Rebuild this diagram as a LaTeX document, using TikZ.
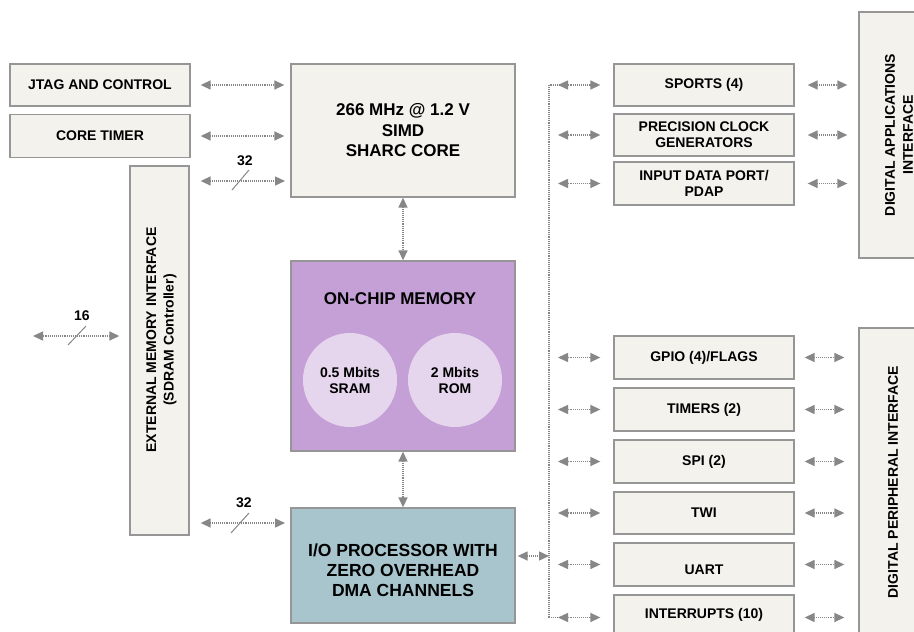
\documentclass[tikz,border=0pt]{standalone}
\usepackage{fontspec}
\setmainfont{Liberation Sans}
\usetikzlibrary{arrows.meta}
\definecolor{boxfill}{RGB}{243,242,237}
\definecolor{boxline}{RGB}{150,150,150}
\definecolor{memfill}{RGB}{196,160,214}
\definecolor{memcirc}{RGB}{229,213,237}
\definecolor{iofill}{RGB}{168,197,206}
\definecolor{linkgray}{RGB}{135,135,135}

\begin{document}
\begin{tikzpicture}[x=1pt,y=-1pt,
  blk/.style={draw=boxline,line width=1.3pt,fill=boxfill,inner sep=0pt,align=center,
    minimum width=180pt,minimum height=42pt,font=\fontsize{14}{16}\selectfont\bfseries},
  big/.style={blk,minimum width=224pt,font=\fontsize{17}{20.5}\selectfont\bfseries},
  memcircle/.style={circle,fill=memcirc,minimum size=94pt,inner sep=0pt,align=center,
    font=\fontsize{14}{16}\selectfont\bfseries},
  lbl/.style={font=\fontsize{14}{17.5}\selectfont\bfseries,align=center},
  link/.style={linkgray,line width=1.4pt,dash pattern=on 1pt off 0.9pt,
    {Triangle[length=10pt,width=9pt]}-{Triangle[length=10pt,width=9pt]}},
  bus/.style={linkgray,line width=1.4pt,dash pattern=on 1pt off 0.9pt},
  slash/.style={linkgray,line width=1pt}]
  \useasboundingbox (0,0) rectangle (914,632);
  \clip (0,0) rectangle (914,632);
  % left column
  \node[blk] (jtag) at (100,85) {JTAG AND CONTROL};
  \node[blk,minimum height=43pt] (ctimer) at (100,136) {CORE TIMER};
  \node[blk,minimum width=59pt,minimum height=369pt] (emi) at (159.5,350.5) {};
  \node[lbl,rotate=90] (emitext) at (161.5,340) {EXTERNAL MEMORY INTERFACE\\(SDRAM Controller)};
  % core, memory, io
  \node[big,minimum height=133pt] (core) at (403,130.5) {266 MHz @ 1.2 V\\SIMD\\SHARC CORE};
  \node[big,fill=memfill,minimum height=190pt] (mem) at (403,356) {};
  \node[lbl,font=\fontsize{17}{20}\selectfont\bfseries] (memlbl) at (400,299) {ON-CHIP MEMORY};
  \node[memcircle] (sram) at (350,380) {0.5 Mbits\\SRAM};
  \node[memcircle] (rom) at (455,380) {2 Mbits\\ROM};
  \node[big,fill=iofill,minimum height=115pt] (io) at (403,565.5) {};
  \node[lbl,font=\fontsize{17.5}{20}\selectfont\bfseries] (iotext) at (403,570) {I/O PROCESSOR WITH\\ZERO OVERHEAD\\DMA CHANNELS};
  % peripherals
  \node[blk] (sports) at (704,85) {SPORTS (4)};
  \node[blk] (pcg) at (704,135) {PRECISION CLOCK\\GENERATORS};
  \node[blk,minimum height=43pt] (idp) at (704,183.5) {INPUT DATA PORT/\\PDAP};
  \node[blk,minimum height=43pt] (gpio) at (704,357.5) {GPIO (4)/FLAGS};
  \node[blk,minimum height=43pt] (timers) at (704,409.5) {TIMERS (2)};
  \node[blk,minimum height=43pt] (spi) at (704,461.5) {SPI (2)};
  \node[blk] (twi) at (704,513) {TWI};
  \node[blk,minimum height=43pt] (uart) at (704,564.5) {};
  \node[lbl] (uarttext) at (704,569.5) {UART};
  \node[blk,minimum height=45pt] (irq) at (704,617.5) {};
  \node[lbl] (irqtext) at (704,615) {INTERRUPTS (10)};
  % interfaces
  \node[blk,minimum width=81pt,minimum height=246pt] (dai) at (899.5,135) {};
  \node[lbl,rotate=90,font=\fontsize{14}{18}\selectfont\bfseries] (daitext) at (899,135) {DIGITAL APPLICATIONS\\INTERFACE};
  \node[blk,minimum width=81pt,minimum height=332pt] (dpi) at (899.5,494) {};
  \node[lbl,rotate=90] (dpitext) at (893,482) {DIGITAL PERIPHERAL INTERFACE};
  % links to core
  \draw[link,shorten <=10pt,shorten >=6pt] (jtag.east) -- (jtag.east -| core.west);
  \draw[link,shorten <=10pt,shorten >=6pt] (ctimer.east) -- (ctimer.east -| core.west);
  \coordinate (c32) at (291,181);
  \draw[link,shorten <=11pt,shorten >=6pt] (c32 -| emi.east) -- (c32);
  \draw[slash] (232,190) -- (249,170);
  \node[lbl] (n32a) at (245,161) {32};
  \draw[link] (core.south) -- (mem.north);
  \draw[link] (mem.south) -- (io.north);
  % links to io
  \coordinate (i32) at (291,523);
  \draw[link,shorten <=11pt,shorten >=6pt] (i32 -| emi.east) -- (i32);
  \draw[slash] (231,533) -- (249,513);
  \node[lbl] (n32b) at (244,503) {32};
  % external bus
  \coordinate (x16) at (33,336);
  \draw[link,shorten >=10pt] (x16) -- (x16 -| emi.west);
  \draw[slash] (68,345) -- (86,326);
  \node[lbl] (n16) at (82,316) {16};
  % peripheral bus
  \coordinate (bustop) at (549,85);
  \coordinate (busbot) at (549,617.5);
  \coordinate (busio) at (549,556);
  \draw[bus] ([xshift=11pt]bustop) -- (bustop) -- (busbot) -- ([xshift=8pt]busbot);
  \draw[link,shorten <=2pt] (busio -| io.east) -- (busio);
  \foreach \b in {sports,pcg,idp,gpio,timers,spi,twi,uart,irq}
    \draw[link,shorten <=9pt,shorten >=13pt] (\b.west -| bustop) -- (\b.west);
  \foreach \b in {sports,pcg,idp}
    \draw[link,shorten <=13pt,shorten >=11pt] (\b.east) -- (\b.east -| dai.west);
  \foreach \b in {gpio,timers,spi,twi,uart,irq}
    \draw[link,shorten <=10pt,shorten >=14pt] (\b.east) -- (\b.east -| dpi.west);
\end{tikzpicture}
\end{document}
